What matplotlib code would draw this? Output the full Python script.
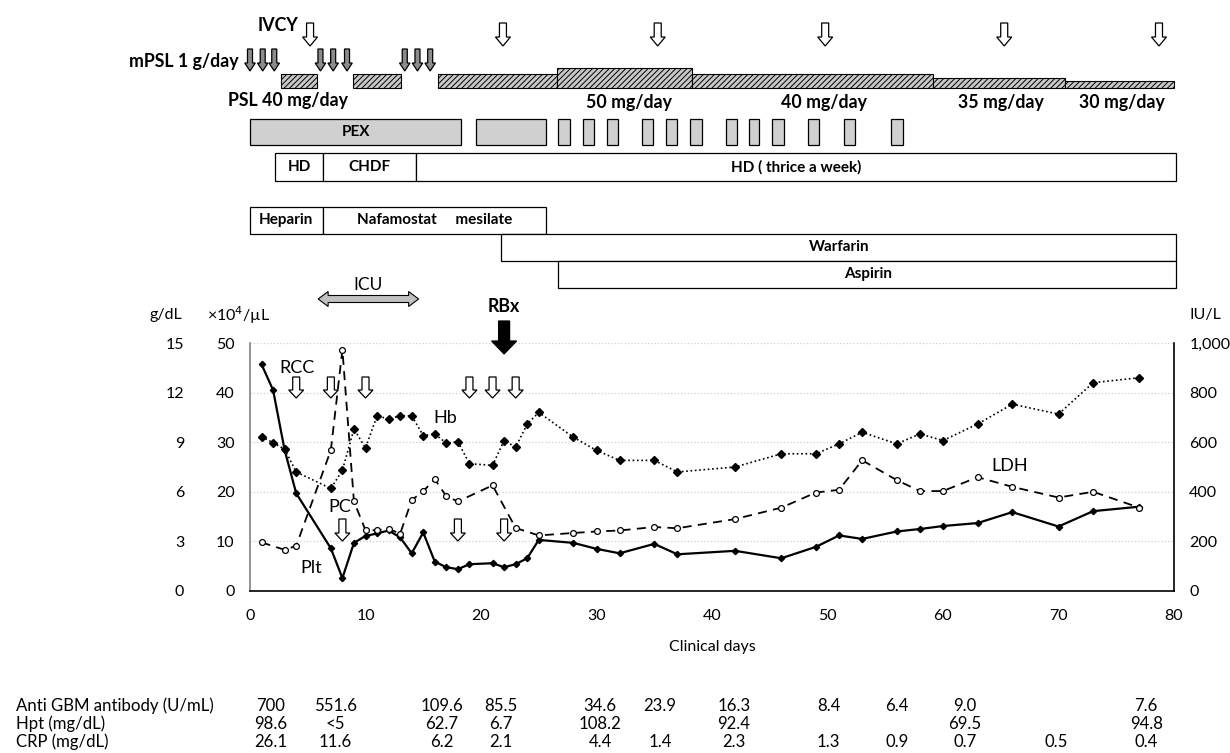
import matplotlib
matplotlib.use("Agg")
import matplotlib.pyplot as plt
from matplotlib.patches import Polygon, Rectangle
from matplotlib.ticker import FuncFormatter

plt.rcParams['font.family'] = ['Lato', 'DejaVu Sans']
plt.rcParams['hatch.linewidth'] = 0.7

# ---------------- data ----------------
plt_days = [1, 2, 3, 4, 7, 8, 9, 10, 11, 12, 13, 14, 15, 16, 17, 18, 19, 21, 22, 23, 24, 25,
            28, 30, 32, 35, 37, 42, 46, 49, 51, 53, 56, 58, 60, 63, 66, 70, 73, 77]
plt_vals = [45.7, 40.5, 28.4, 19.7, 8.6, 2.6, 9.7, 11.1, 11.6, 12.2, 10.8, 7.6, 11.8, 5.9, 4.8, 4.4,
            5.4, 5.6, 4.8, 5.4, 6.6, 10.3, 9.7, 8.5, 7.6, 9.5, 7.4, 8.1, 6.6, 8.9, 11.2, 10.5,
            12.0, 12.5, 13.1, 13.7, 15.9, 13.0, 16.1, 17.0]  # x10^4/uL

hb_days = [1, 2, 3, 4, 7, 8, 9, 10, 11, 12, 13, 14, 15, 16, 17, 18, 19, 21, 22, 23, 24, 25,
           28, 30, 32, 35, 37, 42, 46, 49, 51, 53, 56, 58, 60, 63, 66, 70, 73, 77]
hb_vals = [9.33, 8.97, 8.57, 7.2, 6.2, 7.3, 9.8, 8.65, 10.6, 10.4, 10.6, 10.6, 9.4, 9.5, 8.94, 9.03,
           7.7, 7.6, 9.1, 8.7, 10.1, 10.8, 9.3, 8.5, 7.9, 7.9, 7.2, 7.5, 8.3, 8.3, 8.9, 9.6,
           8.9, 9.5, 9.1, 10.1, 11.3, 10.7, 12.6, 12.9]  # g/dL

ldh_days = [1, 3, 4, 7, 8, 9, 10, 11, 12, 13, 14, 15, 16, 17, 18, 21, 23, 25, 28, 30, 32, 35, 37,
            42, 46, 49, 51, 53, 56, 58, 60, 63, 66, 70, 73, 77]
ldh_vals = [196, 166, 182, 568, 973, 361, 245, 245, 251, 231, 366, 403, 450, 382, 361, 426, 254,
            224, 234, 240, 244, 258, 253, 290, 336, 397, 408, 527, 447, 403, 403, 459, 420, 377,
            400, 336]  # IU/L

rcc_days = [4, 7, 10, 19, 21, 23]
pc_days = [8, 18, 22]
rbx_day = 22
icu_period = (5.9, 14.6)

ivcy_days = [5.2, 21.9, 35.3, 49.8, 65.3, 78.7]
mpsl_days = [0.0, 1.1, 2.1, 6.1, 7.2, 8.4, 13.4, 14.5, 15.6]
psl_start = [2.7, 8.9, 16.3, 26.6, 38.3, 59.1, 70.6]
psl_end = [5.8, 13.1, 26.6, 38.3, 59.1, 70.6, 80.0]
psl_dose = [40, 40, 40, 50, 40, 35, 30]

pex_start = [0.0, 19.6, 26.7, 28.8, 30.9, 33.9, 36.0, 38.1, 41.2, 43.2, 45.2, 48.3, 51.4, 55.5]
pex_end = [18.3, 25.6, 27.7, 29.8, 31.9, 34.9, 37.0, 39.1, 42.2, 44.1, 46.2, 49.3, 52.4, 56.5]

rrt_labels = ['HD', 'CHDF', 'HD ( thrice a week)']
rrt_start = [2.2, 6.3, 14.4]
rrt_end = [6.3, 14.4, 80.2]

anticoag_labels = ['Heparin', 'Nafamostat     mesilate']
anticoag_start = [0.0, 6.3]
anticoag_end = [6.3, 25.6]
warfarin_period = (21.7, 80.2)
aspirin_period = (26.7, 80.2)

table_rows = ['Anti GBM antibody (U/mL)', 'Hpt (mg/dL)', 'CRP (mg/dL)']
anti_gbm = ['700', '551.6', '109.6', '85.5', '34.6', '23.9', '16.3', '8.4', '6.4', '9.0', '', '7.6']
hpt = ['98.6', '<5', '62.7', '6.7', '108.2', '', '92.4', '', '', '69.5', '', '94.8']
crp = ['26.1', '11.6', '6.2', '2.1', '4.4', '1.4', '2.3', '1.3', '0.9', '0.7', '0.5', '0.4']

# ---------------- figure ----------------
W, H = 1230, 753
fig = plt.figure(figsize=(W / 100, H / 100), dpi=100)
L, R, T, B = 250, 1174, 343, 591
ax = fig.add_axes([L / W, 1 - B / H, (R - L) / W, (B - T) / H])
ax.set_xlim(0, 80)
ax.set_ylim(0, 50)
ax.set_xticks(range(0, 81, 10))
ax.set_yticks(range(0, 51, 10))
ax.tick_params(axis='both', length=0, labelsize=11.5)
ax.tick_params(axis='y', pad=11)
ax.tick_params(axis='x', pad=13)
ax.grid(axis='y', color='#cfcfcf', linestyle=':', linewidth=0.9)
ax.set_axisbelow(True)
for s in ['top', 'right']:
    ax.spines[s].set_visible(False)
ax.spines['left'].set_color('#808080')
ax.spines['left'].set_linewidth(1.2)
ax.spines['bottom'].set_color('black')
ax.spines['bottom'].set_linewidth(1.2)
ax.set_xlabel('Clinical days', fontsize=11.5, labelpad=12)

ax_hb = ax.twinx()
ax_hb.set_ylim(0, 15)
ax_hb.yaxis.set_ticks_position('left')
ax_hb.yaxis.set_label_position('left')
ax_hb.set_yticks(range(0, 16, 3))
ax_hb.spines['left'].set_position(('outward', 44))
for s in ['top', 'right', 'left', 'bottom']:
    ax_hb.spines[s].set_visible(False)
ax_hb.tick_params(axis='y', length=0, labelsize=11.5, pad=3.5)

ax_ldh = ax.twinx()
ax_ldh.set_ylim(0, 1000)
ax_ldh.set_yticks(range(0, 1001, 200))
ax_ldh.yaxis.set_major_formatter(FuncFormatter(lambda v, p: f'{int(v):,}'))
for s in ['top', 'left', 'bottom']:
    ax_ldh.spines[s].set_visible(False)
ax_ldh.spines['right'].set_color('black')
ax_ldh.spines['right'].set_linewidth(1.2)
ax_ldh.tick_params(axis='y', length=0, labelsize=11.5, pad=11)

# series
ax.plot(plt_days, plt_vals, color='black', lw=1.6, marker='D', ms=3.2, zorder=3)
ax_hb.plot(hb_days, hb_vals, color='black', lw=1.2, ls=(0, (1, 1.6)), marker='D', ms=3.8, zorder=3)
ax_ldh.plot(ldh_days, ldh_vals, color='black', lw=1.3, ls=(0, (5, 3.5)), marker='o', ms=4.2,
            mfc='white', mec='black', mew=0.9, zorder=4)

# ---------------- overlay in (day, pixel-from-top) ----------------
ov = fig.add_axes([L / W, 0, (R - L) / W, 1])
ov.set_xlim(0, 80)
ov.set_ylim(H, 0)
ov.axis('off')
PXD = (R - L) / 80.0  # pixels per day


def down_arrow(x, ytop, ybot, shaft, head, hlen, fc='white', ec='black', lw=0.9):
    sx = shaft / 2 / PXD
    hx = head / 2 / PXD
    yh = ybot - hlen
    pts = [(x - sx, ytop), (x + sx, ytop), (x + sx, yh), (x + hx, yh), (x, ybot),
           (x - hx, yh), (x - sx, yh)]
    ov.add_patch(Polygon(pts, closed=True, fc=fc, ec=ec, lw=lw, clip_on=False, zorder=5))


def box(x0, x1, y0, y1, fc='white', hatch=None, lw=0.9):
    ov.add_patch(Rectangle((x0, y0), x1 - x0, y1 - y0, fc=fc, ec='black', lw=lw, hatch=hatch,
                           clip_on=False, zorder=4))


bold = dict(fontweight='bold', clip_on=False, zorder=6)
BIG = 12.8
BOX = 11

# IVCY
ov.text(2.4, 25, 'IVCY', ha='center', va='center', fontsize=BIG, **bold)
for d in ivcy_days:
    down_arrow(d, 23, 46, 7, 15, 9)

# mPSL
ov.text(-1.0, 61, 'mPSL 1 g/day', ha='right', va='center', fontsize=BIG, **bold)
for d in mpsl_days:
    down_arrow(d, 49, 71, 5, 10.5, 8, fc='#8c8c8c')

# PSL
for s, e, dose in zip(psl_start, psl_end, psl_dose):
    h = (dose - 20) * 0.68
    box(s, e, 88 - h, 88, fc='#c8c8c8', hatch='//////', lw=0.8)
ov.text(3.3, 100, 'PSL 40 mg/day', ha='center', va='center', fontsize=BIG, **bold)
for xd, lab in zip([32.8, 49.7, 65.0, 75.5], ['50 mg/day', '40 mg/day', '35 mg/day', '30 mg/day']):
    ov.text(xd, 102, lab, ha='center', va='center', fontsize=BIG, **bold)

# PEX
for s, e in zip(pex_start, pex_end):
    box(s, e, 119, 144.5, fc='#d0d0d0')
ov.text((pex_start[0] + pex_end[0]) / 2, 132, 'PEX', ha='center', va='center', fontsize=BOX, **bold)

# RRT
for s, e, lab in zip(rrt_start, rrt_end, rrt_labels):
    box(s, e, 153, 181)
    ov.text((s + e) / 2, 167, lab, ha='center', va='center', fontsize=BOX, **bold)

# anticoagulation
for s, e, lab in zip(anticoag_start, anticoag_end, anticoag_labels):
    box(s, e, 206.5, 233.5)
    ov.text((s + e) / 2, 220, lab, ha='center', va='center', fontsize=BOX, **bold)
box(warfarin_period[0], warfarin_period[1], 233.5, 260.5)
ov.text(51, 247, 'Warfarin', ha='center', va='center', fontsize=BOX, **bold)
box(aspirin_period[0], aspirin_period[1], 260.5, 288)
ov.text(53.5, 274, 'Aspirin', ha='center', va='center', fontsize=BOX, **bold)

# ICU double arrow
x0, x1 = icu_period
yc, half_s, half_h, hl = 299, 3.5, 7.5, 10 / PXD
pts = [(x0, yc), (x0 + hl, yc - half_h), (x0 + hl, yc - half_s), (x1 - hl, yc - half_s),
       (x1 - hl, yc - half_h), (x1, yc), (x1 - hl, yc + half_h), (x1 - hl, yc + half_s),
       (x0 + hl, yc + half_s), (x0 + hl, yc + half_h)]
ov.add_patch(Polygon(pts, closed=True, fc='#c0c0c0', ec='black', lw=0.8, clip_on=False))
ov.text((x0 + x1) / 2, 285, 'ICU', ha='center', va='center', fontsize=12.5, clip_on=False)

# RBx
ov.text(rbx_day, 306, 'RBx', ha='center', va='center', fontsize=12.8, **bold)
down_arrow(rbx_day, 321, 354, 11, 25, 13, fc='black')

# transfusion arrows
for d in rcc_days:
    down_arrow(d, 377, 398, 7, 15, 8)
for d in pc_days:
    down_arrow(d, 519, 541, 7, 15, 8)

# series labels (in plot)
ov.text(4.1, 368, 'RCC', ha='center', va='center', fontsize=13, clip_on=False)
ov.text(16.9, 418, 'Hb', ha='center', va='center', fontsize=13, clip_on=False)
ov.text(7.8, 507, 'PC', ha='center', va='center', fontsize=13, clip_on=False)
ov.text(5.3, 568, 'Plt', ha='center', va='center', fontsize=13, clip_on=False)
ov.text(65.8, 466, 'LDH', ha='center', va='center', fontsize=13, clip_on=False)

# unit labels
ov.text(-7.3, 315, 'g/dL', ha='center', va='center', fontsize=11.5, clip_on=False)
ov.text(-1.0, 315, '×10$^4$/µL', ha='center', va='center', fontsize=11.5, clip_on=False)
ov.text(81.3, 315, 'IU/L', ha='left', va='center', fontsize=11.5, clip_on=False)

# table
col_x = [1.8, 7.4, 16.6, 21.7, 30.3, 35.5, 41.9, 50.1, 56.0, 61.9, 69.8, 77.6]
row_y = [706, 724, 742]
for lab, y, vals in zip(table_rows, row_y, [anti_gbm, hpt, crp]):
    ov.text(-20.3, y, lab, ha='left', va='center', fontsize=12.1, clip_on=False)
    for xd, v in zip(col_x, vals):
        if v:
            ov.text(xd, y, v, ha='center', va='center', fontsize=12.1, clip_on=False)

fig.savefig('out.png', dpi=100)
